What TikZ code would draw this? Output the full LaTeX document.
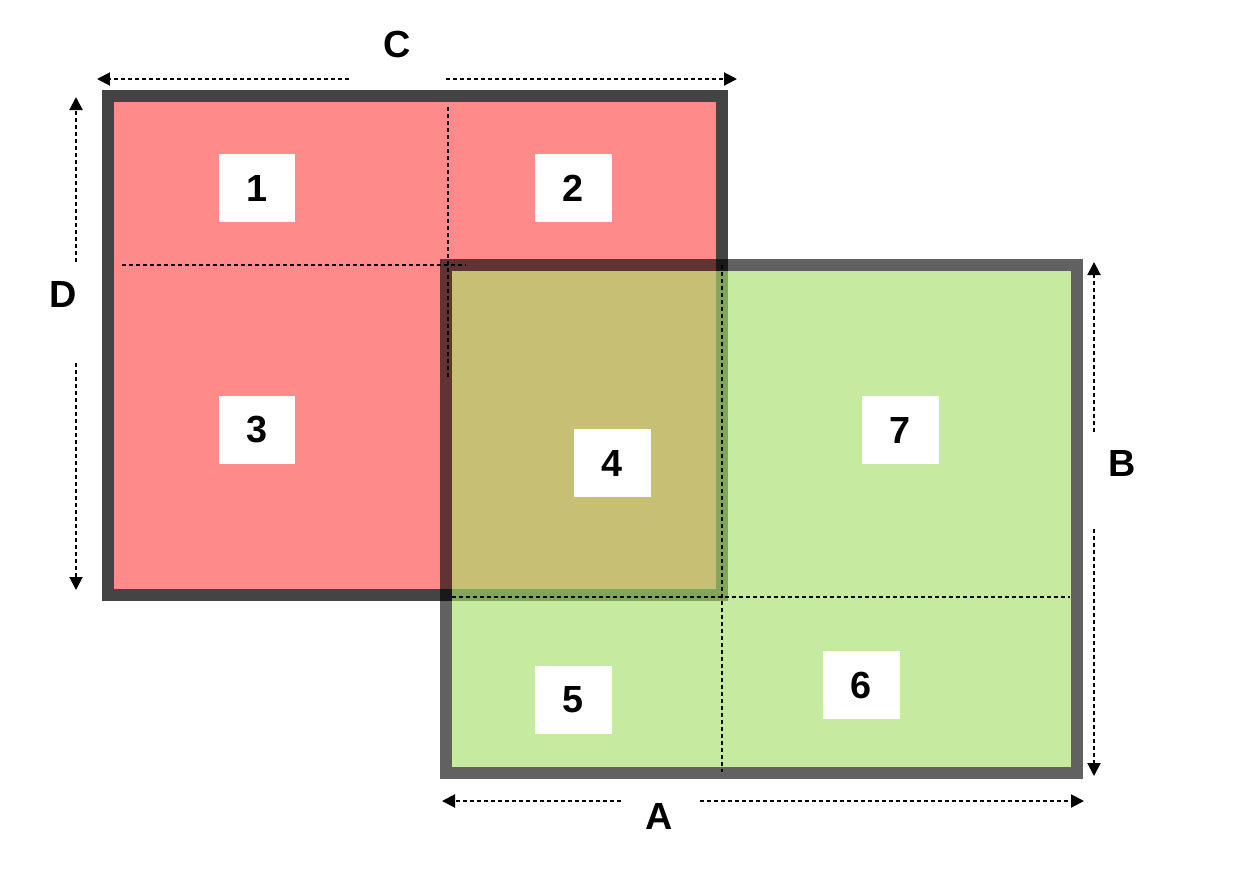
\documentclass[tikz,border=0pt]{standalone}
\usepackage{fontspec}
\setmainfont{Liberation Sans}
\usepackage{xcolor}
\usepackage{tikz}
\usetikzlibrary{arrows.meta,positioning}

\definecolor{redfill}{RGB}{255,138,138}
\definecolor{redframe}{RGB}{68,68,68}
\definecolor{greenfill}{RGB}{165,223,104}

\tikzset{
    cellbox/.style={
        fill=white,
        minimum width=1.54cm,
        minimum height=1.36cm,
        inner sep=0pt,
        font=\fontsize{21.5}{26}\selectfont\bfseries
    },
    sidelabel/.style={
        inner sep=0pt,
        font=\fontsize{21.5}{26}\selectfont\bfseries
    },
    divider/.style={
        line width=0.04cm,
        dash pattern=on 0.08cm off 0.06cm
    },
    sizearrow/.style={
        divider,
        -{Triangle[length=0.26cm,width=0.26cm]}
    }
}

\begin{document}
\begin{tikzpicture}[x=0.02cm,y=-0.02cm]
                \useasboundingbox (0,0) rectangle (1256,886);

                % red area
                \draw[
                    line width=0.24cm,
                    color=redframe,
                    fill=redfill
                    ] (108,96) rectangle (722,595);

                % green area, see-through
                \fill[
                    greenfill,
                    fill opacity=0.63
                    ] (452,271) rectangle (1071,767);
                \draw[
                    line width=0.24cm,
                    draw=black,
                    draw opacity=0.62
                    ] (446,265) rectangle (1077,773);

                % dividers
                \draw[divider] (122,265) to (465,265);
                \draw[divider] (448,107) to (448,378);
                \draw[divider] (722,265) to (722,772);
                \draw[divider] (452,597) to (1070,597);

                % cells
                \node[cellbox] (c1) at (257,188) {1};
                \node[cellbox] (c2) at (573,188) {2};
                \node[cellbox] (c3) at (257,430) {3};
                \node[cellbox] (c4) at (612,463) {4};
                \node[cellbox] (c5) at (573,700) {5};
                \node[cellbox] (c6) at (861,685) {6};
                \node[cellbox] (c7) at (900,430) {7};

                % sizes
                \node[sidelabel] (labC) at (397,44) {C};
                \node[sidelabel] (labD) at (63,294) {D};
                \node[sidelabel] (labB) at (1122,463) {B};
                \node[sidelabel] (labA) at (659,816) {A};

                \coordinate (cL1) at (349,79);
                \coordinate (cL2) at (97,79);
                \coordinate (cR1) at (446,79);
                \coordinate (cR2) at (737,79);
                \draw[sizearrow] (cL1) to (cL2);
                \draw[sizearrow] (cR1) to (cR2);

                \coordinate (dU1) at (76,262);
                \coordinate (dU2) at (76,97);
                \coordinate (dD1) at (76,363);
                \coordinate (dD2) at (76,590);
                \draw[sizearrow] (dU1) to (dU2);
                \draw[sizearrow] (dD1) to (dD2);

                \coordinate (bU1) at (1094,432);
                \coordinate (bU2) at (1094,262);
                \coordinate (bD1) at (1094,529);
                \coordinate (bD2) at (1094,776);
                \draw[sizearrow] (bU1) to (bU2);
                \draw[sizearrow] (bD1) to (bD2);

                \coordinate (aL1) at (621,801);
                \coordinate (aL2) at (442,801);
                \coordinate (aR1) at (700,801);
                \coordinate (aR2) at (1084,801);
                \draw[sizearrow] (aL1) to (aL2);
                \draw[sizearrow] (aR1) to (aR2);

            \end{tikzpicture}
\end{document}
